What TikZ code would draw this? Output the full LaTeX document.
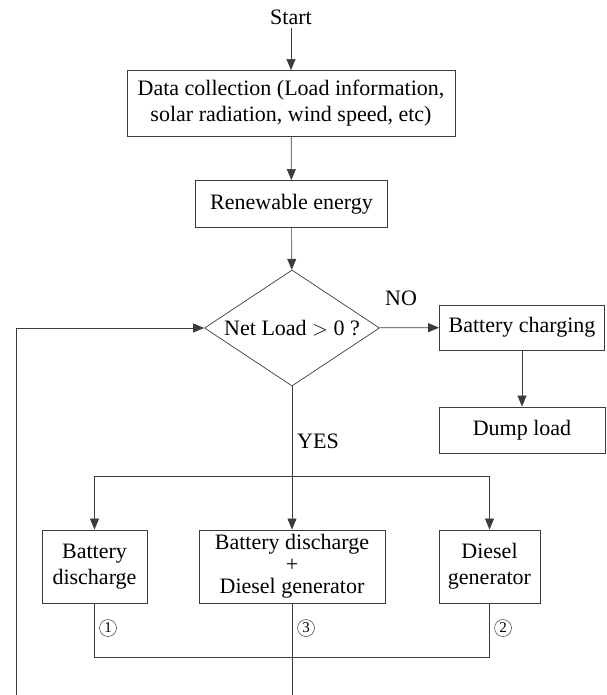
\documentclass[tikz,border=0pt]{standalone}
\usepackage{fontspec}
\setmainfont{Liberation Serif}
\usepackage{tikz}
\usetikzlibrary{positioning,calc,shapes.geometric,arrows.meta}
\definecolor{linegray}{RGB}{60,60,60}

\begin{document}
\begin{tikzpicture}[
            x=1pt, y=-1pt,
            every node/.style={font=\fontsize{22}{26}\selectfont, text=black},
            box/.style={draw=linegray, rectangle, line width=0.9pt, align=center, inner sep=0pt},
            decision/.style={draw=linegray, diamond, aspect=1.5, line width=0.7pt, inner sep=0pt,
                       minimum width=175, minimum height=116},
            link/.style={draw=linegray, line width=0.7pt},
            arrow/.style={link, -{Triangle[length=11pt,width=9pt]}},
            tag/.style={draw=linegray, circle, line width=0.5pt, inner sep=0pt, minimum size=17,
                       font=\fontsize{15}{15}\selectfont}
        ]
            \useasboundingbox (0,0) rectangle (606,695);

            \node (start) at (291,17) {Start};
            \node[box, minimum width=328, minimum height=66] (data) at (291,103.5)
                {Data collection (Load information,\\solar radiation, wind speed, etc)};
            \node[box, minimum width=192, minimum height=47] (renew) at (291.5,204) {Renewable energy};
            \node[decision] (netload) at (292,328) {Net Load $>$ 0 ?};
            \node[box, minimum width=165, minimum height=45] (charge) at (522,327.5) {Battery charging};
            \node[box, minimum width=166, minimum height=46] (dump) at (522,430) {Dump load};

            \node[box, minimum width=105, minimum height=73] (batt) at (94.5,566.5) {Battery\\discharge};
            \node[box, minimum width=186, minimum height=73, font=\fontsize{22}{22}\selectfont] (both) at (292,566.5)
                {Battery discharge\\+\\Diesel generator};
            \node[box, minimum width=101, minimum height=73] (diesel) at (489.5,566.5) {Diesel\\generator};

            % Labels
            \node (no) at (401,298) {NO};
            \node (yes) at (318,441) {YES};
            \node[tag] (t1) at (108,628) {1};
            \node[tag] (t3) at (306,628) {3};
            \node[tag] (t2) at (503,628) {2};

            \coordinate (fork) at (292,476);
            \coordinate (join) at (292,657);
            \coordinate (midend) at (292,695);
            \coordinate (loopend) at (16,695);

            \draw[arrow] (start) -- (data);
            \draw[arrow] (data) -- (renew);
            \draw[arrow] (renew) -- (netload);
            \draw[arrow] (netload) -- (charge);
            \draw[arrow] (charge) -- (dump);

            % YES branches
            \draw[arrow] (netload) -- (both);
            \draw[link] (batt.north |- fork) -- (diesel.north |- fork);
            \draw[arrow] (batt.north |- fork) -- (batt);
            \draw[arrow] (diesel.north |- fork) -- (diesel);

            % Return paths
            \draw[link] (batt.south) -- (batt.south |- join) -- (diesel.south |- join) -- (diesel.south);
            \draw[link] (both.south) -- (midend);
            \draw[arrow] (loopend) |- (netload.west);
        \end{tikzpicture}
\end{document}
